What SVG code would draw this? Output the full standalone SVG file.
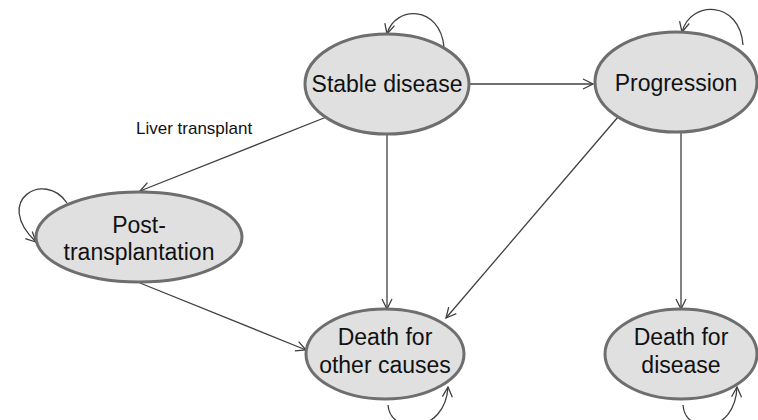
<svg xmlns="http://www.w3.org/2000/svg" width="758" height="420" viewBox="0 0 758 420">
<defs>
<marker id="arr" viewBox="0 0 12 12" refX="11" refY="6" markerWidth="12" markerHeight="12" markerUnits="userSpaceOnUse" orient="auto">
<path d="M1,1 L11,6 L1,11" fill="none" stroke="#404040" stroke-width="1.3"/>
</marker>
<style>
.node ellipse{fill:#e0e0e0;stroke:#6e6e6e;stroke-width:3}
.node text{font-family:"Liberation Sans",Arial,sans-serif;font-size:23px;fill:#111;text-anchor:middle}
.edge{fill:none;stroke:#404040;stroke-width:1.3;marker-end:url(#arr)}
.lbl{font-family:"Liberation Sans",Arial,sans-serif;font-size:17px;fill:#111}
</style>
</defs>
<rect width="758" height="420" fill="#fff"/>
<g id="connectors">
<path class="edge" d="M469,84 L593,84"/>
<path class="edge" d="M329,116 L140,191"/>
<path class="edge" d="M387,134 L387,309"/>
<path class="edge" d="M618,117 L446,318"/>
<path class="edge" d="M681,133 L681,309"/>
<path class="edge" d="M140,283 L306,350"/>
<path class="edge" d="M444,47 C440,5 395,5 387,34"/>
<path class="edge" d="M743,45 C740,0 690,0 682,32"/>
<path class="edge" d="M67,203 C45,170 -8,200 36,242"/>
<path class="edge" d="M388,405 C390,435 445,435 448,387"/>
<path class="edge" d="M683,405 C685,435 735,435 737,387"/>
<text class="lbl" x="136" y="134">Liver transplant</text>
</g>
<g id="stable" class="node">
<ellipse cx="387" cy="84" rx="82" ry="50"/>
<text x="387" y="92">Stable disease</text>
</g>
<g id="progression" class="node">
<ellipse cx="676" cy="82" rx="81" ry="50"/>
<text x="676" y="91">Progression</text>
</g>
<g id="post" class="node">
<ellipse cx="139" cy="237" rx="103" ry="45"/>
<text x="139" y="233">Post-</text>
<text x="139" y="260">transplantation</text>
</g>
<g id="deathother" class="node">
<ellipse cx="385" cy="354" rx="79" ry="45"/>
<text x="385" y="345">Death for</text>
<text x="385" y="373">other causes</text>
</g>
<g id="deathdisease" class="node">
<ellipse cx="681" cy="354" rx="76" ry="45"/>
<text x="681" y="345">Death for</text>
<text x="681" y="373">disease</text>
</g>
</svg>
